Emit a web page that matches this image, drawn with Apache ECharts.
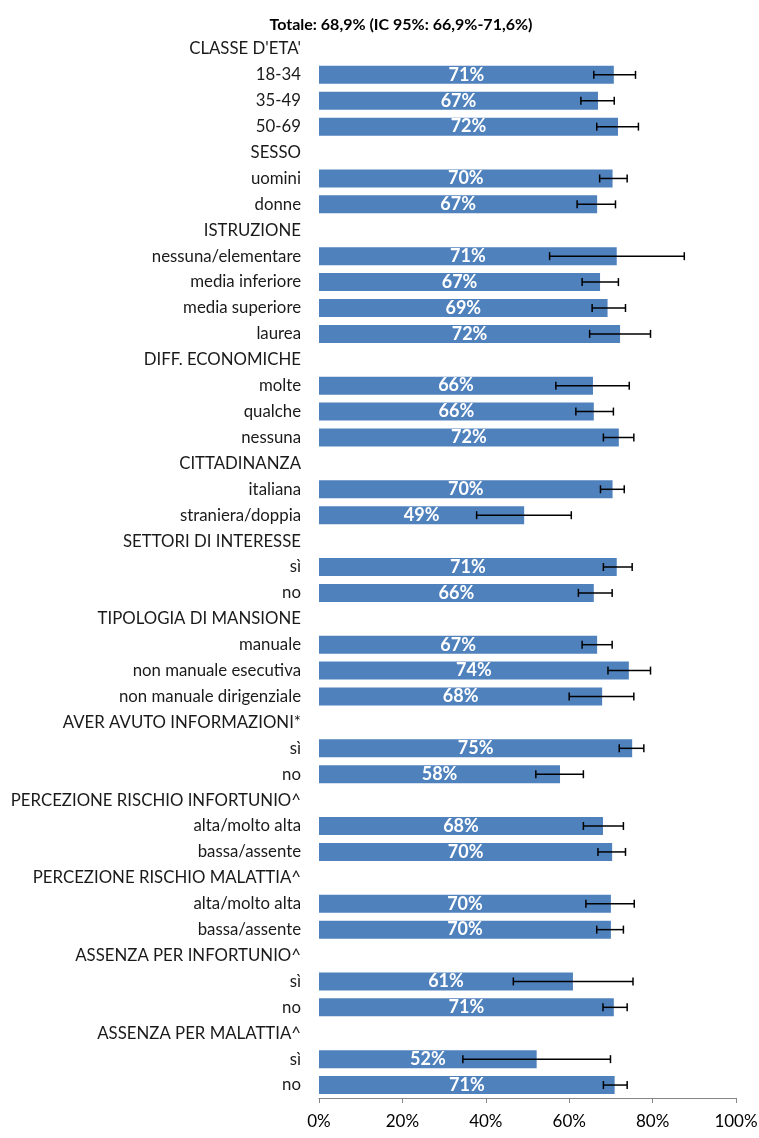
<!DOCTYPE html>
<html>
<head>
<meta charset="utf-8">
<script src="https://cdn.jsdelivr.net/npm/echarts@6/dist/echarts.min.js"></script>
<style>
  html, body { margin: 0; padding: 0; background: #fff; }
  #chart { width: 759px; height: 1138px; }
</style>
</head>
<body>
<div id="chart"></div>
<script>
// righe del grafico (intestazioni di gruppo senza barra)
const categories = [
  "CLASSE D'ETA'", '18-34', '35-49', '50-69',
  'SESSO', 'uomini', 'donne',
  'ISTRUZIONE', 'nessuna/elementare', 'media inferiore', 'media superiore', 'laurea',
  'DIFF. ECONOMICHE', 'molte', 'qualche', 'nessuna',
  'CITTADINANZA', 'italiana', 'straniera/doppia',
  'SETTORI DI INTERESSE', 'sì', 'no',
  'TIPOLOGIA DI MANSIONE', 'manuale', 'non manuale esecutiva', 'non manuale dirigenziale',
  'AVER AVUTO INFORMAZIONI*', 'sì', 'no',
  'PERCEZIONE RISCHIO INFORTUNIO^', 'alta/molto alta', 'bassa/assente',
  'PERCEZIONE RISCHIO MALATTIA^', 'alta/molto alta', 'bassa/assente',
  'ASSENZA PER INFORTUNIO^', 'sì', 'no',
  'ASSENZA PER MALATTIA^', 'sì', 'no'
];

// prevalenza (%)
const values = [
  null, 70.7, 66.9, 71.7,
  null, 70.4, 66.7,
  null, 71.4, 67.4, 69.2, 72.2,
  null, 65.7, 65.9, 71.9,
  null, 70.4, 49.2,
  null, 71.4, 65.9,
  null, 66.7, 74.3, 67.9,
  null, 75.1, 57.8,
  null, 68.1, 70.3,
  null, 70.0, 70.0,
  null, 60.9, 70.7,
  null, 52.2, 70.9
];

// IC 95% inferiore
const ciLow = [
  null, 65.9, 62.8, 66.6,
  null, 67.3, 61.9,
  null, 55.3, 63.1, 65.5, 64.9,
  null, 56.8, 61.6, 68.2,
  null, 67.5, 37.8,
  null, 68.2, 62.2,
  null, 63.1, 69.3, 60.0,
  null, 72.0, 52.0,
  null, 63.4, 66.9,
  null, 64.0, 66.6,
  null, 46.6, 68.1,
  null, 34.5, 68.2
];

// IC 95% superiore
const ciHigh = [
  null, 75.9, 70.8, 76.6,
  null, 73.9, 71.1,
  null, 87.6, 71.8, 73.5, 79.5,
  null, 74.4, 70.6, 75.5,
  null, 73.2, 60.5,
  null, 75.1, 70.3,
  null, 70.3, 79.5, 75.5,
  null, 77.9, 63.4,
  null, 73.0, 73.5,
  null, 75.6, 73.0,
  null, 75.3, 73.9,
  null, 69.9, 73.9
];

const xTicks = [0, 20, 40, 60, 80, 100];

const FONT = 'Lato, "Noto Sans", sans-serif';

// le categorie si ripetono (sì/no...), quindi l'asse usa gli indici
const rowIdx = categories.map(function (c, i) { return String(i); });

const errData = [];
categories.forEach(function (c, i) {
  if (ciLow[i] != null) errData.push([i, ciLow[i], ciHigh[i]]);
});

const chart = echarts.init(document.getElementById('chart'));

chart.setOption({
  animation: false,
  backgroundColor: '#ffffff',
  title: {
    text: 'Totale: 68,9% (IC 95%: 66,9%-71,6%)',
    left: 396,
    textAlign: 'center',
    top: 12,
    textStyle: { fontFamily: FONT, fontSize: 16, fontWeight: 'bold', color: '#000' }
  },
  grid: { left: 319, right: 23, top: 36, bottom: 40, containLabel: false, outerBoundsMode: 'none' },
  xAxis: {
    type: 'value',
    min: 0,
    max: 100,
    interval: 20,
    axisLine: { show: true, lineStyle: { color: '#868686', width: 1 } },
    axisTick: { show: true, length: 5, inside: false, lineStyle: { color: '#868686' } },
    splitLine: { show: false },
    axisLabel: {
      margin: 15,
      fontFamily: FONT,
      fontSize: 17,
      color: '#000',
      formatter: function (v) { return xTicks.indexOf(v) >= 0 ? v + '%' : ''; }
    }
  },
  yAxis: {
    type: 'category',
    inverse: true,
    data: rowIdx,
    axisLine: { show: false },
    axisTick: { show: false },
    axisLabel: {
      margin: 18,
      interval: 0,
      fontFamily: FONT,
      fontSize: 16.8,
      color: '#1a1a1a',
      formatter: function (v) { return categories[+v]; }
    }
  },
  series: [
    {
      type: 'bar',
      data: values,
      barWidth: 18,
      itemStyle: { color: '#4f81bd' },
      label: {
        show: true,
        position: 'inside',
        color: '#fff',
        fontFamily: FONT,
        fontSize: 18,
        fontWeight: 'bold',
        formatter: function (p) { return p.value == null ? '' : Math.round(p.value) + '%'; }
      }
    },
    {
      type: 'custom',
      data: errData,
      z: 10,
      renderItem: function (params, api) {
        const y = api.value(0);
        const lo = api.coord([api.value(1), y]);
        const hi = api.coord([api.value(2), y]);
        const cap = 4;
        const style = { stroke: '#000', lineWidth: 1.5 };
        return {
          type: 'group',
          children: [
            { type: 'line', shape: { x1: lo[0], y1: lo[1], x2: hi[0], y2: hi[1] }, style: style },
            { type: 'line', shape: { x1: lo[0], y1: lo[1] - cap, x2: lo[0], y2: lo[1] + cap }, style: style },
            { type: 'line', shape: { x1: hi[0], y1: hi[1] - cap, x2: hi[0], y2: hi[1] + cap }, style: style }
          ]
        };
      }
    }
  ]
});
</script>
</body>
</html>
